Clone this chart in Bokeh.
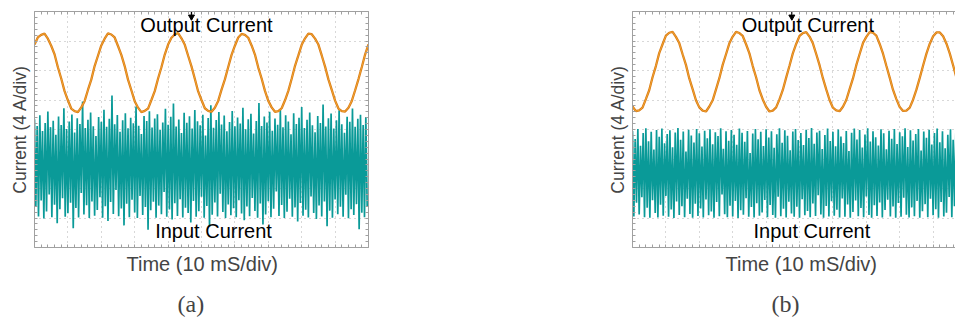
from bokeh.plotting import figure
from bokeh.layouts import row
from bokeh.models import Title, FixedTicker, LinearAxis, Range1d, Grid
from bokeh.embed import file_html
from bokeh.resources import INLINE
from bokeh.core.properties import value

SANS = "Liberation Sans"
SERIF = "Liberation Serif"

# ---- data (divisions: x 0..10 at 10 mS/div, y -4..4 at 4 A/div) ----
out_step = 0.1
output_a = [
    2.88, 3.12, 3.21, 3.25, 3.08, 2.84, 2.55, 2.11, 1.73, 1.30, 0.99, 0.71, 0.62, 0.59, 0.75, 0.96, 1.34, 1.69, 2.15, 2.50,
    2.85, 3.08, 3.26, 3.22, 3.12, 2.83, 2.53, 2.15, 1.69, 1.33, 0.96, 0.74, 0.59, 0.63, 0.71, 1.00, 1.30, 1.73, 2.11, 2.54,
    2.88, 3.11, 3.22, 3.27, 3.09, 2.87, 2.50, 2.14, 1.72, 1.29, 1.00, 0.72, 0.63, 0.60, 0.74, 0.97, 1.35, 1.70, 2.12, 2.53,
    2.84, 3.12, 3.24, 3.21, 3.11, 2.85, 2.54, 2.10, 1.73, 1.31, 0.97, 0.75, 0.60, 0.62, 0.72, 0.99, 1.31, 1.72, 2.16, 2.51,
    2.87, 3.09, 3.25, 3.23, 3.08, 2.88, 2.51, 2.13, 1.70, 1.34, 0.98, 0.71, 0.62, 0.61, 0.74, 0.97, 1.33, 1.71, 2.12, 2.55,
    2.89,
]
output_b = [
    0.78, 0.62, 0.65, 0.74, 1.03, 1.33, 1.77, 2.15, 2.59, 2.89, 3.18, 3.28, 3.31, 3.14, 2.93, 2.55, 2.19, 1.73, 1.37, 0.99,
    0.75, 0.64, 0.61, 0.78, 0.99, 1.36, 1.74, 2.19, 2.55, 2.92, 3.15, 3.31, 3.27, 3.17, 2.89, 2.58, 2.15, 1.77, 1.33, 1.02,
    0.77, 0.61, 0.64, 0.75, 1.02, 1.34, 1.76, 2.16, 2.58, 2.90, 3.17, 3.27, 3.30, 3.15, 2.92, 2.56, 2.18, 1.74, 1.36, 1.00,
    0.74, 0.65, 0.62, 0.77, 1.00, 1.37, 1.73, 2.18, 2.56, 2.93, 3.14, 3.30, 3.28, 3.18, 2.90, 2.57, 2.16, 1.76, 1.34, 1.03,
    0.76, 0.63, 0.64, 0.74, 1.01, 1.35, 1.75, 2.17, 2.57, 2.91, 3.16, 3.29, 3.29, 3.16, 2.91, 2.57, 2.17, 1.75, 1.35, 1.01,
    0.76,
]

in_step = 0.04  # one sample every 0.04 div, alternating peak / valley
input_a_hi = [
    0.35, 0.12, 0.48, -0.05, 0.22, 0.61, 0.08, 0.30, -0.18, 0.44, 0.15, 0.72, 0.02, 0.27, 0.51, -0.10, 0.38, 0.19, 0.95, 0.05, 0.33, 0.58, 0.11, -0.22, 0.42,
    0.26, 0.67, 0.09, 0.36, 1.15, 0.18, 0.49, -0.08, 0.31, 0.55, 0.04, 0.40, 0.21, 0.78, 0.13, -0.15, 0.46, 0.29, 0.62, 0.07, 0.37, 0.52, -0.02, 0.24, 0.70,
    0.16, 0.43, 0.88, 0.10, 0.34, -0.12, 0.57, 0.23, 0.45, 0.03, 0.66, 0.28, 0.14, 0.50, -0.20, 0.39, 0.82, 0.06, 0.32, 0.59, 0.17, 0.47, -0.06, 0.25, 0.63,
    0.11, 0.41, 0.20, 0.74, 0.01, 0.35, 0.53, -0.14, 0.29, 0.90, 0.12, 0.44, 0.24, 0.60, -0.04, 0.37, 0.16, 0.68, 0.08, 0.48, 0.27, -0.16, 0.55, 0.19, 0.40,
    0.76, 0.05, 0.33, 0.58, 0.14, -0.09, 0.46, 0.22, 0.85, 0.10, 0.38, 0.54, 0.03, 0.31, 0.65, 0.18, -0.11, 0.43, 0.26, 0.71, 0.09, 0.36, 0.50, 0.15, 0.42,
]
input_a_lo = [
    -2.62, -2.95, -2.41, -3.02, -2.78, -2.20, -2.97, -2.55, -3.18, -2.70, -2.33, -2.96, -2.84, -2.48, -3.35, -2.66, -2.98, -2.15, -2.88, -2.57, -3.00, -2.44, -2.92, -2.73, -2.30,
    -2.99, -2.60, -3.10, -2.46, -2.86, -2.05, -2.94, -2.68, -3.25, -2.52, -2.97, -2.38, -2.81, -3.00, -2.25, -2.90, -2.63, -3.40, -2.74, -2.45, -2.99, -2.58, -2.87, -2.12, -2.96,
    -2.71, -3.05, -2.50, -2.93, -2.36, -2.98, -2.65, -2.83, -3.15, -2.42, -2.96, -2.77, -2.28, -2.99, -2.59, -3.30, -2.89, -2.47, -2.95, -2.18, -2.80, -3.00, -2.54, -2.91, -2.67,
    -2.97, -2.40, -2.85, -3.08, -2.61, -2.94, -2.32, -2.76, -2.99, -2.51, -3.22, -2.88, -2.43, -2.97, -2.69, -2.10, -2.93, -2.56, -3.00, -2.79, -2.35, -2.96, -2.64, -3.12, -2.49,
    -2.92, -2.72, -2.98, -2.27, -2.83, -3.03, -2.58, -2.95, -2.44, -3.28, -2.75, -2.99, -2.37, -2.87, -2.62, -2.96, -2.21, -3.01, -2.70, -2.90, -2.53, -3.38, -2.82, -2.97, -2.60,
]
input_b_hi = [
    -0.05, -0.32, 0.02, -0.55, -0.12, 0.04, -0.40, -0.08, -0.68, -0.02, -0.25, 0.03, -0.47, -0.15, -0.03, -0.60, -0.10, 0.05, -0.35, -0.07, -0.75, -0.01, -0.20, -0.44, 0.02,
    -0.13, -0.58, -0.04, -0.30, 0.01, -0.50, -0.09, -0.22, 0.04, -0.65, -0.06, -0.38, -0.02, -0.18, -0.52, 0.03, -0.11, -0.42, -0.05, -0.80, -0.14, 0.02, -0.33, -0.08, -0.56,
    0.01, -0.27, -0.06, -0.62, -0.16, 0.04, -0.45, -0.03, -0.21, -0.70, -0.07, 0.02, -0.36, -0.12, -0.53, -0.01, -0.29, 0.05, -0.48, -0.10, -0.04, -0.66, -0.19, 0.03, -0.39,
    -0.08, -0.57, 0.00, -0.24, -0.46, -0.05, -0.73, -0.11, 0.03, -0.34, -0.02, -0.61, -0.17, 0.04, -0.41, -0.06, -0.26, -0.54, 0.01, -0.13, -0.67, -0.04, -0.31, 0.02, -0.49,
    -0.09, -0.23, 0.04, -0.59, -0.03, -0.37, -0.15, 0.02, -0.71, -0.07, -0.28, -0.01, -0.51, -0.12, 0.03, -0.43, -0.06, -0.64, -0.18, 0.01, -0.35, -0.10, -0.55, -0.02, -0.30,
]
input_b_lo = [
    -2.95, -2.48, -2.88, -2.30, -2.97, -2.65, -2.99, -2.40, -2.83, -2.98, -2.55, -2.92, -2.25, -2.96, -2.71, -3.00, -2.44, -2.90, -2.60, -2.97, -2.35, -2.86, -2.99, -2.52, -2.93,
    -2.68, -2.98, -2.37, -2.91, -2.78, -2.99, -2.46, -2.94, -2.20, -2.87, -2.97, -2.58, -2.95, -2.42, -3.00, -2.74, -2.89, -2.33, -2.96, -2.63, -2.98, -2.50, -2.92, -2.81, -2.39,
    -2.97, -2.56, -2.90, -2.99, -2.28, -2.94, -2.69, -2.98, -2.45, -2.85, -2.96, -2.62, -2.99, -2.36, -2.91, -2.76, -2.97, -2.51, -2.93, -2.23, -2.88, -2.99, -2.59, -2.95, -2.43,
    -2.92, -2.72, -2.98, -2.34, -2.96, -2.54, -2.99, -2.80, -2.41, -2.94, -2.66, -2.97, -2.27, -2.90, -2.99, -2.57, -2.93, -2.47, -2.98, -2.73, -2.38, -2.95, -2.61, -2.99, -2.49,
    -2.96, -2.31, -2.89, -2.98, -2.64, -2.94, -2.42, -2.99, -2.77, -2.53, -2.97, -2.35, -2.91, -2.70, -2.99, -2.46, -2.95, -2.82, -2.29, -2.97, -2.60, -2.93, -2.99, -2.40, -2.88,
]

x_label = "Time (10 mS/div)"
y_label = "Current (4 A/div)"
out_name = "Output Current"
in_name = "Input Current"

BORDER = "#a0a0a0"
GRID = "#b0b0b0"
TEAL = "#0a9a98"
ORANGE_DARK = "#d97b14"
ORANGE_LIGHT = "#f3a636"


def panel(out_vals, hi, lo, caption, fw, x_end, left_border, right_border, has_right,
          trig_x, out_x, in_x, cap_off, xl_off):
    p = figure(frame_width=fw, frame_height=236, x_range=Range1d(0, x_end), y_range=Range1d(-4, 4),
               x_axis_type=None, y_axis_type=None, output_backend="svg", toolbar_location=None,
               min_border_left=left_border, min_border_right=right_border, min_border_top=11,
               min_border_bottom=0)
    p.outline_line_color = None
    p.background_fill_color = "white"

    # dotted graticule
    p.add_layout(Grid(dimension=0, ticker=FixedTicker(ticks=list(range(1, 10))),
                      grid_line_color=GRID, grid_line_dash="1 4", grid_line_width=1))
    p.add_layout(Grid(dimension=1, ticker=FixedTicker(ticks=list(range(-3, 4))),
                      grid_line_color=GRID, grid_line_dash="1 4", grid_line_width=1))

    # border with inward minor ticks (no labels)
    sides = ["below", "above", "left"] + (["right"] if has_right else [])
    for side in sides:
        if side in ("below", "above"):
            tk = FixedTicker(ticks=[], minor_ticks=[i * 0.2 for i in range(51)])
        else:
            tk = FixedTicker(ticks=[], minor_ticks=[-4 + i * 0.2 for i in range(41)])
        ax = LinearAxis(ticker=tk, axis_line_color=BORDER, axis_line_width=1,
                        major_tick_in=0, major_tick_out=0, minor_tick_in=3, minor_tick_out=0,
                        minor_tick_line_color=BORDER,
                        major_label_text_font_size="0px", major_label_standoff=0)
        p.add_layout(ax, side)

    # input current (switching ripple)
    xs, ys = [], []
    for i in range(len(hi)):
        xs.append(2 * i * in_step)
        ys.append(hi[i])
        xs.append((2 * i + 1) * in_step)
        ys.append(lo[i])
    p.line(xs, ys, line_color=TEAL, line_width=1.7)

    # output current
    xo = [i * out_step for i in range(len(out_vals))]
    p.line(xo, out_vals, line_color=ORANGE_DARK, line_width=2.3)
    p.line(xo, out_vals, line_color=ORANGE_LIGHT, line_width=0.9)

    # trigger marker
    p.segment(x0=[trig_x], y0=[4.0], x1=[trig_x], y1=[3.72], line_color="black", line_width=1.3)
    p.scatter(x=[trig_x], y=[3.82], marker="inverted_triangle", size=6, color="black")

    p.text(x=[out_x], y=[3.53], text=[out_name], text_font=value(SANS), text_font_size="20px",
           text_align="center", text_baseline="middle", text_color="black")
    p.text(x=[in_x], y=[-3.45], text=[in_name], text_font=value(SANS), text_font_size="20px",
           text_align="center", text_baseline="middle", text_color="black")

    p.add_layout(Title(text=y_label, align="center", text_font=SANS, text_font_size="17.5px",
                       text_font_style="normal", standoff=9), "left")
    p.add_layout(Title(text=x_label, align="left", text_font=SANS, text_font_size="20px",
                       text_font_style="normal", standoff=7, offset=xl_off), "below")
    p.add_layout(Title(text=caption, align="left", text_font=SERIF, text_font_size="24px",
                       text_font_style="normal", standoff=20, offset=cap_off), "below")
    return p


pa = panel(output_a, input_a_hi, input_a_lo, "(a)", 334, 10, 34, 233, True, 4.70, 5.15, 5.36, 143, 92)
pb = panel(output_b, input_b_hi, input_b_lo, "(b)", 323, 9.67, 26, 0, False, 4.77, 5.25, 5.37, 139, 93)

layout = row(pa, pb)
open("out.html", "w").write(file_html(layout, INLINE))
